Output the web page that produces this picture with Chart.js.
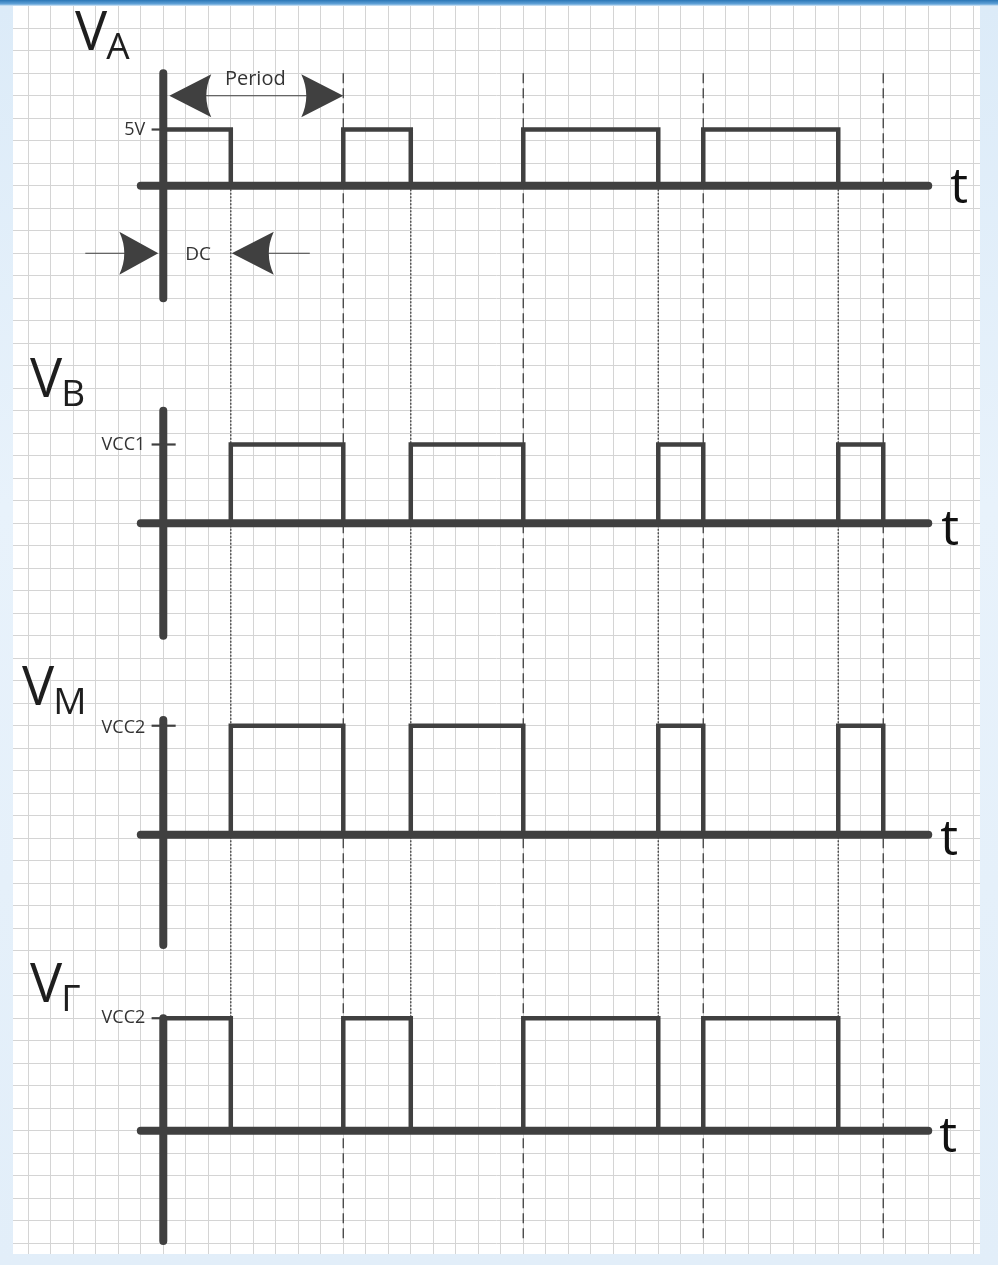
<!DOCTYPE html>
<html><head><meta charset="utf-8">
<script src="https://cdn.jsdelivr.net/npm/chart.js@4.4.1/dist/chart.umd.min.js"></script>
<style>
html,body{margin:0;padding:0;}
body{width:998px;height:1265px;overflow:hidden;
background:linear-gradient(180deg,#2a76b6 0px,#62a3d8 4px,#dcebf8 6px,#e8f2fb 40%,#e2eef9 100%);}
canvas{display:block;}
</style></head><body>
<canvas id="c" width="998" height="1265"></canvas>
<script>
// ---------------- data ----------------
const edgeTimes   = [0, 3, 8, 11, 16, 22, 24, 30, 32];   // switching instants (grid cells)
const levelsA     = [1, 0, 1, 0, 1, 0, 1, 0, 0];          // level held from each instant
const levelsB     = [0, 1, 0, 1, 0, 1, 0, 1, 0];
const levelsM     = [0, 1, 0, 1, 0, 1, 0, 1, 0];
const levelsG     = [1, 0, 1, 0, 1, 0, 1, 0, 0];
const periodMarks = [8, 16, 24, 32];
const dutyMarks   = [3, 11, 22, 30];
const signalSubs  = ['A', 'B', 'M', 'Γ'];
const levelNames  = ['5V', 'VCC1', 'VCC2', 'VCC2'];
const axisLabel   = 't';
const periodLabel = 'Period';
const dutyLabel   = 'DC';

// ---------------- layout (grid units) ----------------
const T_START = -1, T_END = 34;
const X_MIN = -6.68, X_MAX = 36.3, Y_MIN = -0.99, Y_MAX = 54.48;
const panels = [
  {levels: levelsA, base: 7,     high: 4.5, top: 2,     bottom: 12,    title: {t: -3.92, r: 0.96},  tdx: 22, tdy: 17},
  {levels: levelsB, base: 22,    high: 18.5, top: 17,   bottom: 27,    title: {t: -5.92, r: 16.39}, tdx: 13, tdy: 22},
  {levels: levelsM, base: 35.85, high: 31,  top: 30.75, bottom: 40.75, title: {t: -6.28, r: 30.08}, tdx: 12, tdy: 20},
  {levels: levelsG, base: 49,    high: 44,  top: 44,    bottom: 53.9,  title: {t: -5.92, r: 43.3},  tdx: 11, tdy: 21}
];
const INK = '#404040';

const datasets = [];
// period (dashed) and duty (dotted) guides
periodMarks.forEach(t => datasets.push({data: [{x: t, y: 2}, {x: t, y: 53.9}], borderColor: '#4a4a4a', borderWidth: 1.4, borderDash: [10, 5], order: 5}));
dutyMarks.forEach(t => datasets.push({data: [{x: t, y: 7}, {x: t, y: 44}], borderColor: '#4a4a4a', borderWidth: 1.4, borderDash: [2, 1.5], order: 5}));
panels.forEach((p, i) => {
  // waveform
  const pts = edgeTimes.map((t, k) => ({x: t, y: p.base - (p.base - p.high) * p.levels[k]}));
  pts.unshift({x: edgeTimes[0], y: p.base});
  pts.push({x: T_END, y: p.base - (p.base - p.high) * p.levels[p.levels.length - 1]});
  datasets.push({data: pts, stepped: 'before', borderColor: INK, borderWidth: 4.5, borderJoinStyle: 'miter', order: 3});
  // axes
  datasets.push({data: [{x: T_START, y: p.base}, {x: T_END, y: p.base}], borderColor: INK, borderWidth: 8, borderCapStyle: 'round', order: 2});
  datasets.push({data: [{x: 0, y: p.top}, {x: 0, y: p.bottom}], borderColor: INK, borderWidth: 8, borderCapStyle: 'round', order: 2});
  // level tick
  datasets.push({data: [{x: -0.52, y: p.high}, {x: 0.55, y: p.high}], borderColor: INK, borderWidth: 2.2, order: 1});
});

function arrow(ctx, tipX, tipY, dir, len, half, curve) {
  ctx.beginPath();
  ctx.moveTo(tipX, tipY);
  ctx.lineTo(tipX - dir * len, tipY - half);
  ctx.quadraticCurveTo(tipX - dir * (len - 2 * curve), tipY, tipX - dir * len, tipY + half);
  ctx.closePath();
  ctx.fill();
}

const decor = {
  id: 'decor',
  beforeDraw(chart) {
    const {ctx, chartArea: a} = chart;
    ctx.save();
    ctx.fillStyle = '#ffffff';
    ctx.fillRect(a.left, a.top, a.right - a.left, a.bottom - a.top);
    ctx.restore();
  },
  afterDraw(chart) {
    const {ctx} = chart;
    const X = v => chart.scales.x.getPixelForValue(v);
    const Y = v => chart.scales.y.getPixelForValue(v);
    ctx.save();
    ctx.fillStyle = '#1e1e1e';
    panels.forEach((p, i) => {
      // title V with subscript
      const tx = X(p.title.t), ty = Y(p.title.r);
      ctx.font = '400 54px "Open Sans"';
      ctx.textAlign = 'left'; ctx.textBaseline = 'alphabetic';
      ctx.fillStyle = '#1e1e1e';
      ctx.fillText('V', tx, ty);
      const w = ctx.measureText('V').width;
      ctx.font = '400 37px "Open Sans"';
      ctx.fillText(signalSubs[i], tx + w - 1, ty + 9);
      // level label
      ctx.font = '18px "Open Sans"';
      ctx.textAlign = 'right'; ctx.textBaseline = 'middle';
      ctx.fillStyle = '#333';
      ctx.fillText(levelNames[i], X(0) - 18, Y(p.high) + (i === 2 ? 2 : 0));
      // time axis label
      ctx.fillStyle = '#111';
      ctx.font = '50px "Open Sans"';
      ctx.textAlign = 'left'; ctx.textBaseline = 'alphabetic';
      ctx.fillText(axisLabel, X(T_END) + p.tdx, Y(p.base) + p.tdy);
    });
    // Period dimension
    ctx.fillStyle = INK; ctx.strokeStyle = INK; ctx.lineWidth = 1.2;
    const pyy = Y(3);
    ctx.beginPath(); ctx.moveTo(X(0) + 8, pyy); ctx.lineTo(X(periodMarks[0]) - 4, pyy); ctx.stroke();
    arrow(ctx, X(0) + 6, pyy, -1, 42, 21.5, 5);
    arrow(ctx, X(periodMarks[0]), pyy, 1, 42, 21.5, 5);
    // DC dimension
    const dy = Y(10);
    ctx.beginPath(); ctx.moveTo(X(0) - 78, dy); ctx.lineTo(X(0) - 20, dy); ctx.stroke();
    ctx.beginPath(); ctx.moveTo(X(dutyMarks[0]) + 20, dy); ctx.lineTo(X(dutyMarks[0]) + 79, dy); ctx.stroke();
    arrow(ctx, X(0) - 5, dy, 1, 39, 21.5, 5);
    arrow(ctx, X(dutyMarks[0]) + 1, dy, -1, 42, 21.5, 5);
    // texts
    ctx.fillStyle = '#333';
    ctx.textAlign = 'center'; ctx.textBaseline = 'middle';
    ctx.font = '20px "Open Sans"';
    ctx.fillText(periodLabel, (X(0) + X(periodMarks[0])) / 2 + 2, pyy - 16);
    ctx.font = '19px "Open Sans"';
    ctx.fillText(dutyLabel, (X(0) + X(dutyMarks[0])) / 2 + 1, dy + 1);
    ctx.restore();
  }
};

new Chart(document.getElementById('c'), {
  type: 'line',
  data: {datasets: datasets.map(d => Object.assign({pointRadius: 0, fill: false, tension: 0}, d))},
  options: {
    responsive: false, animation: false, events: [],
    layout: {padding: {left: 13, top: 6, right: 18, bottom: 11}},
    plugins: {legend: {display: false}, tooltip: {enabled: false}},
    scales: {
      x: {type: 'linear', min: X_MIN, max: X_MAX,
          ticks: {display: false, stepSize: 1, includeBounds: false, autoSkip: false},
          grid: {color: '#d4d4d4', lineWidth: 1, drawTicks: false}, border: {display: false},
          afterFit(s) { s.height = 0; }},
      y: {type: 'linear', reverse: true, min: Y_MIN, max: Y_MAX,
          ticks: {display: false, stepSize: 1, includeBounds: false, autoSkip: false},
          grid: {color: '#d4d4d4', lineWidth: 1, drawTicks: false}, border: {display: false},
          afterFit(s) { s.width = 0; }}
    }
  },
  plugins: [decor]
});
</script>
</body></html>
